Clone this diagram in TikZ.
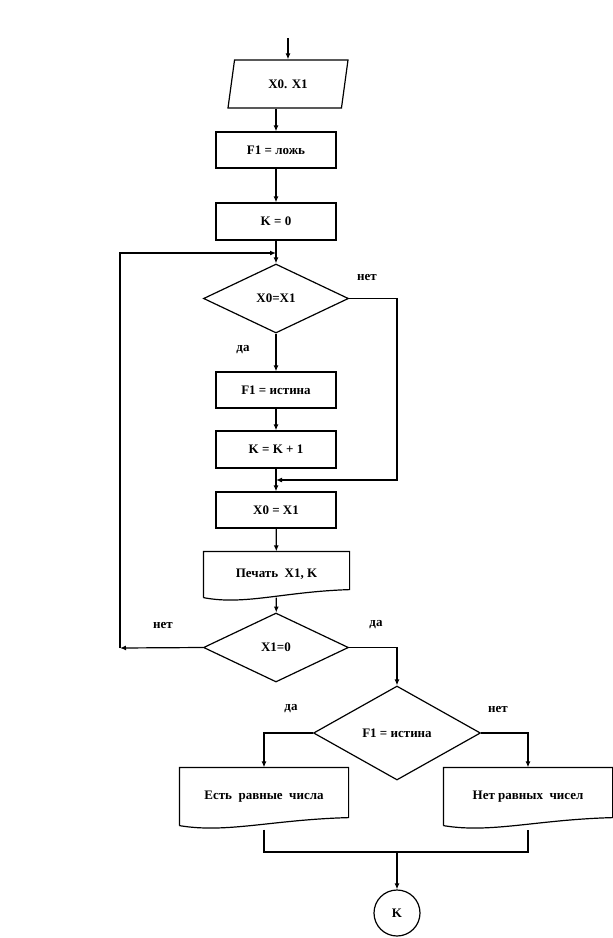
\documentclass[tikz,border=0pt]{standalone}
\usepackage{fontspec}
\setmainfont{Liberation Serif}
\usepackage{tikz}
\usetikzlibrary{shapes.geometric, arrows.meta, calc}

\tikzset{
  box/.style={draw, minimum width=120pt, minimum height=36pt, inner sep=2pt},
  cond/.style={draw, diamond, minimum width=145pt, minimum height=69pt, inner sep=0pt},
  doc/.style={minimum width=145pt, minimum height=45pt, inner sep=2pt},
}
\newcommand{\docframe}[1]{%
  \draw (#1.south west) -- (#1.north west) -- (#1.north east) -- ([yshift=8pt]#1.south east)
    .. controls ($(#1.south east)!0.45!(#1.south west)+(0,6pt)$) and ($(#1.south east)!0.72!(#1.south west)+(0,-8pt)$) .. (#1.south west);}

\begin{document}
\begin{tikzpicture}[x=1pt, y=-1pt, line width=1.2pt, >={Latex[length=6pt,width=5pt]},
    font=\fontsize{13}{15}\selectfont\bfseries]
          \useasboundingbox (0,0) rectangle (613,938);
          % input
          \coordinate (start) at (288,38);
          \node [draw, trapezium, trapezium left angle=63, trapezium right angle=117,
                 trapezium stretches body, minimum width=120pt, minimum height=48pt, inner sep=2pt] (inp) at (288,84) {X0. X1};
          \node [box] (f1) at (276,150) {F1 = ложь};
          \node [box, minimum height=37pt] (k0) at (276,221.5) {K = 0};
          \coordinate (m1) at (276,253);
          % first check
          \node [cond] (d1) at (276,298.5) {X0=X1};
          \node (no1) at (367,277) {нет};
          \node (yes1) at (243,350) {да};
          \node [box] (t1) at (276,390) {F1 = истина};
          \node [box, minimum height=37pt] (kk) at (276,449.5) {K = K + 1};
          \coordinate (r1) at (397,480);
          \coordinate (m2) at (276,480);
          \node [box] (x0) at (276,510) {X0 = X1};
          \node [doc] (pr) at (276.5,574.5) {Печать\ \ X1, K};
          \docframe{pr}
          % second check
          \node [cond] (d2) at (276,647.5) {X1=0};
          \node (no2) at (163,625) {нет};
          \node (yes2) at (376,625) {да};
          \coordinate (c1) at (120,648);
          % result
          \node [cond, minimum width=167pt, minimum height=94pt] (d3) at (397,733) {F1 = истина};
          \node (yes3) at (291,709) {да};
          \node (no3) at (498,709) {нет};
          \node [doc, minimum width=168pt, minimum height=57pt] (e) at (264,796.5) {Есть\ \ равные\ \ числа};
          \docframe{e}
          \node [doc, minimum width=168pt, minimum height=57pt] (n) at (528,796.5) {Нет равных\ \ чисел};
          \docframe{n}
          \coordinate (jn) at (397,852);
          \node [draw, circle, minimum size=46pt, inner sep=0pt] (k) at (397,913) {K};
          % connectors
          \draw [->] (start) -- (inp);
          \draw [->] (f1 |- inp.south) -- (f1);
          \draw [->] (f1) -- (k0);
          \draw [->] (k0) -- (d1);
          \draw [->] (d1) -- (t1);
          \draw [->] (t1) -- (kk);
          \draw [->] (kk) -- (x0);
          \draw [->] (d1.east) -| (r1) -- (m2);
          \draw [->] (x0) -- (pr);
          \draw [->] (pr) -- (d2);
          \draw [->] (d2.west) -- (c1);
          \draw [->] (c1) |- (m1);
          \draw [->] (d2.east) -| (d3);
          \draw [->] (d3.west) -| (e);
          \draw [->] (d3.east) -| (n);
          \draw ([yshift=-4pt]e.south) -- (e.south |- jn) -- (n.south |- jn) -- ([yshift=-4pt]n.south);
          \draw [->] (jn) -- (k);
        \end{tikzpicture}
\end{document}
